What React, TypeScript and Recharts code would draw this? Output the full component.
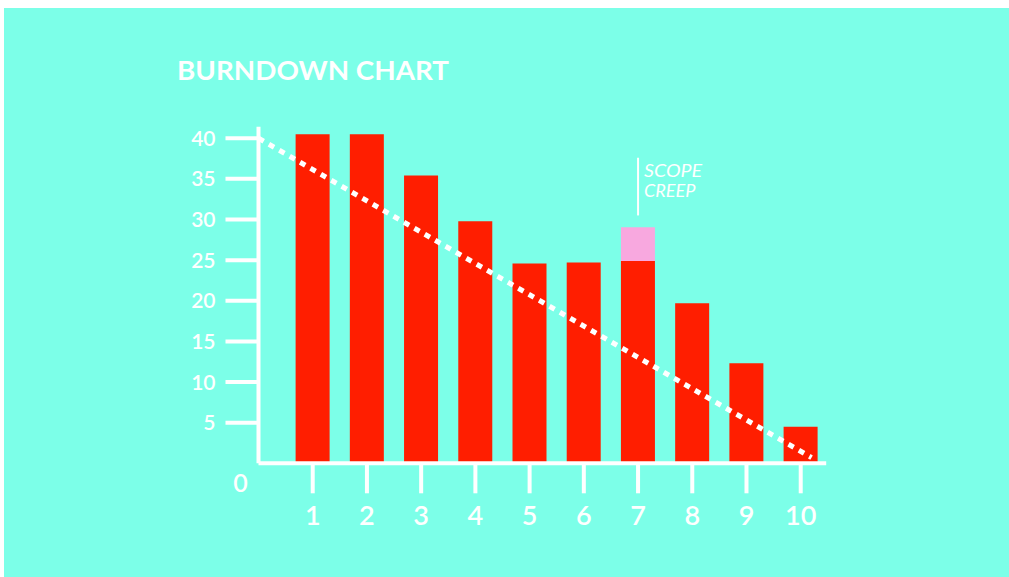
import React from "react";
import {
  ComposedChart,
  Bar,
  Line,
  XAxis,
  YAxis,
  ReferenceLine,
} from "recharts";

const days = [1, 2, 3, 4, 5, 6, 7, 8, 9, 10];
const remaining = [40.5, 40.5, 35.4, 29.8, 24.6, 24.7, 24.9, 19.7, 12.3, 4.5];
const scopeCreep = [0, 0, 0, 0, 0, 0, 4.15, 0, 0, 0];
const idealDays = [0, 10.2];
const idealValues = [40, 0.7];
const yTicks = [0, 5, 10, 15, 20, 25, 30, 35, 40];

const BG = "#7CFFE8";
const RED = "#FF1E00";
const PINK = "#F8A8DF";
const FONT = "Lato, 'Open Sans', sans-serif";

const barData = days.map((d, i) => ({
  day: d,
  remaining: remaining[i],
  scope: scopeCreep[i],
}));

const idealData = idealDays.map((d, i) => ({ day: d, ideal: idealValues[i] }));

// y ticks: short white dash + label, "0" sits below the corner
function YTick(props: any) {
  const { x, y, payload } = props;
  const axisX = x + 10 + 33;
  if (payload.value === 0) {
    return (
      <text
        x={axisX - 18}
        y={y + 20}
        textAnchor="middle"
        dy="0.36em"
        fill="#fff"
        fontSize={25}
        fontWeight={600}
        fontFamily={FONT}
      >
        0
      </text>
    );
  }
  return (
    <g>
      <line x1={x + 10} x2={axisX} y1={y} y2={y} stroke="#fff" strokeWidth={4} />
      <text
        x={x}
        y={y}
        textAnchor="end"
        dy="0.36em"
        fill="#fff"
        fontSize={21}
        fontWeight={600}
        fontFamily={FONT}
      >
        {payload.value}
      </text>
    </g>
  );
}

export default function App() {
  return (
    <div style={{ position: "absolute", left: 0, top: 0, width: 1009, height: 577 }}>
      <div
        style={{
          position: "absolute",
          left: 4,
          top: 8,
          width: 1005,
          height: 569,
          background: BG,
        }}
      />
      <div style={{ position: "absolute", left: 0, top: 0 }}>
        <ComposedChart
          width={1009}
          height={577}
          data={barData}
          margin={{ top: 126.7, right: 182.8, bottom: 53.7, left: 198.5 }}
        >
          <XAxis
            dataKey="day"
            type="number"
            domain={[0, 10.47]}
            ticks={days}
            interval={0}
            allowDataOverflow
            axisLine={{ stroke: "#fff", strokeWidth: 4 }}
            tickLine={{ stroke: "#fff", strokeWidth: 4 }}
            tickSize={30}
            tickMargin={13}
            height={60}
            tick={{ fill: "#fff", fontSize: 27, fontWeight: 600, fontFamily: FONT }}
          />
          <XAxis
            xAxisId="ideal"
            dataKey="day"
            type="number"
            domain={[0, 10.47]}
            allowDataOverflow
            hide
          />
          <YAxis
            type="number"
            domain={[0, 41.42]}
            ticks={yTicks}
            interval={0}
            allowDataOverflow
            width={60}
            tickSize={33}
            tickMargin={10}
            tickLine={false}
            axisLine={{ stroke: "#fff", strokeWidth: 4 }}
            tick={<YTick />}
          />
          <Bar dataKey="remaining" stackId="a" fill={RED} barSize={34} isAnimationActive={false} />
          <Bar dataKey="scope" stackId="a" fill={PINK} barSize={34} isAnimationActive={false} />
          <Line
            xAxisId="ideal"
            data={idealData}
            dataKey="ideal"
            stroke="#fff"
            strokeWidth={5}
            strokeDasharray="6 6"
            dot={false}
            activeDot={false}
            isAnimationActive={false}
          />
          <ReferenceLine
            segment={[
              { x: 7, y: 30.5 },
              { x: 7, y: 37.6 },
            ]}
            stroke="#fff"
            strokeWidth={2}
          />
        </ComposedChart>
      </div>
      <svg
        width={1009}
        height={577}
        style={{ position: "absolute", left: 0, top: 0, pointerEvents: "none" }}
      >
        <text
          x={177}
          y={80}
          fill="#fff"
          fontSize={27}
          fontWeight={700}
          fontFamily={FONT}
          textLength={272}
          lengthAdjust="spacingAndGlyphs"
        >
          BURNDOWN CHART
        </text>
        <text
          x={644}
          y={176.7}
          fill="#fff"
          fontSize={18}
          fontStyle="italic"
          fontWeight={400}
          fontFamily={FONT}
          textLength={58}
          lengthAdjust="spacingAndGlyphs"
        >
          SCOPE
        </text>
        <text
          x={644}
          y={197}
          fill="#fff"
          fontSize={18}
          fontStyle="italic"
          fontWeight={400}
          fontFamily={FONT}
          textLength={51.5}
          lengthAdjust="spacingAndGlyphs"
        >
          CREEP
        </text>
      </svg>
    </div>
  );
}
